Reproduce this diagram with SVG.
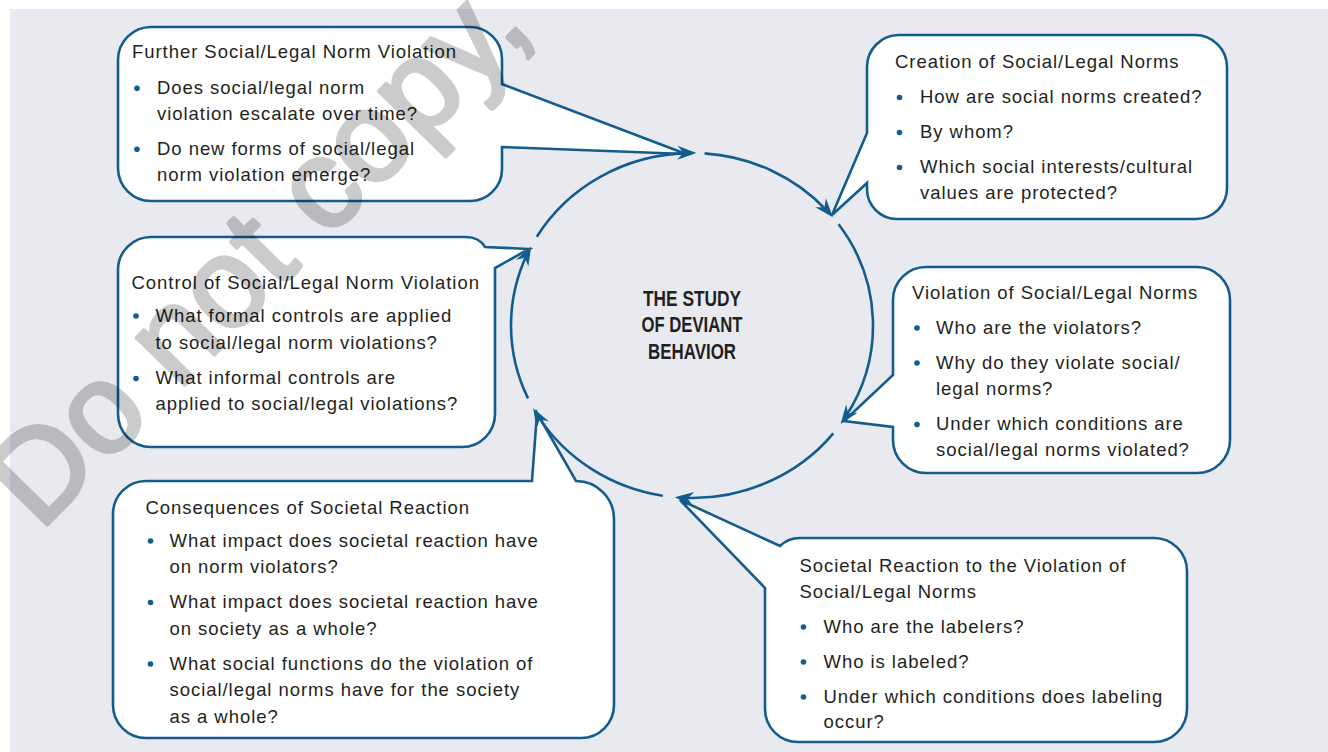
<svg xmlns="http://www.w3.org/2000/svg" width="1328" height="752" viewBox="0 0 1328 752">
<defs>
<style>
.box{fill:#fff;stroke:#135c8e;stroke-width:2.6;stroke-linejoin:miter}
.arc{fill:none;stroke:#135c8e;stroke-width:2.6}
.t{font-family:"Liberation Sans",Arial,sans-serif;font-size:18.5px;letter-spacing:0.95px;fill:#231f20}
.title{font-family:"Liberation Sans",Arial,sans-serif;font-size:21.5px;font-weight:bold;fill:#231f20}
.dot{fill:#135c8e}
.wm{font-family:"Liberation Sans",Arial,sans-serif;font-size:127px;fill:#000;stroke:#000;stroke-width:4;stroke-linejoin:round}
</style>
<path id="ah" d="M0,0 L-19,-7 L-13,0 L-19,7 Z" fill="#135c8e"/>
</defs>
<rect x="0" y="0" width="1328" height="752" fill="#fff"/>
<rect x="10" y="9" width="1318" height="743" fill="#e9eaf0"/>

<g id="node-further">
<path class="box" d="M151,27 H470 A32,32 0 0 1 502,59 V84 L686,154 L502,147 V169 A32,32 0 0 1 470,201 H151 A33,33 0 0 1 118,168 V60 A33,33 0 0 1 151,27 Z"/>
<text class="t" x="132" y="58">Further Social/Legal Norm Violation</text>
<circle class="dot" cx="137" cy="88.3" r="2.8"/>
<text class="t" x="157" y="94">Does social/legal norm</text>
<text class="t" x="157" y="120">violation escalate over time?</text>
<circle class="dot" cx="137" cy="149.3" r="2.8"/>
<text class="t" x="157" y="155">Do new forms of social/legal</text>
<text class="t" x="157" y="181">norm violation emerge?</text>
</g>

<g id="node-creation">
<path class="box" d="M899,35 H1195 A32,32 0 0 1 1227,67 V188 A31,31 0 0 1 1196,219 H897 A30,30 0 0 1 867,189 V183 L832,215 L867,133 V68 A32,32 0 0 1 899,35 Z"/>
<text class="t" x="895" y="68">Creation of Social/Legal Norms</text>
<circle class="dot" cx="899.5" cy="97.5" r="2.8"/>
<text class="t" x="920" y="103">How are social norms created?</text>
<circle class="dot" cx="899.5" cy="132.5" r="2.8"/>
<text class="t" x="920" y="138">By whom?</text>
<circle class="dot" cx="899.5" cy="167.5" r="2.8"/>
<text class="t" x="920" y="173">Which social interests/cultural</text>
<text class="t" x="920" y="199">values are protected?</text>
</g>

<g id="node-violation">
<path class="box" d="M926,267 H1197 A33,33 0 0 1 1230,300 V440 A33,33 0 0 1 1197,473 H926 A33,33 0 0 1 893,440 V427 L844,421 L893,375 V300 A33,33 0 0 1 926,267 Z"/>
<text class="t" x="912" y="299">Violation of Social/Legal Norms</text>
<circle class="dot" cx="917" cy="328" r="2.8"/>
<text class="t" x="936" y="333.5">Who are the violators?</text>
<circle class="dot" cx="917" cy="363" r="2.8"/>
<text class="t" x="936" y="368.5">Why do they violate social/</text>
<text class="t" x="936" y="394.5">legal norms?</text>
<circle class="dot" cx="917" cy="424.5" r="2.8"/>
<text class="t" x="936" y="430">Under which conditions are</text>
<text class="t" x="936" y="456">social/legal norms violated?</text>
</g>

<g id="node-reaction">
<path class="box" d="M800,538 H1154 A33,33 0 0 1 1187,571 V709 A33,33 0 0 1 1154,742 H798 A33,33 0 0 1 765,709 V588 L680,500 L780,546 Q788,538 800,538 Z"/>
<text class="t" x="799.5" y="571.5">Societal Reaction to the Violation of</text>
<text class="t" x="799.5" y="597.5">Social/Legal Norms</text>
<circle class="dot" cx="803.5" cy="627" r="2.8"/>
<text class="t" x="823.5" y="632.5">Who are the labelers?</text>
<circle class="dot" cx="803.5" cy="662" r="2.8"/>
<text class="t" x="823.5" y="667.5">Who is labeled?</text>
<circle class="dot" cx="803.5" cy="697" r="2.8"/>
<text class="t" x="823.5" y="702.5">Under which conditions does labeling</text>
<text class="t" x="823.5" y="728">occur?</text>
</g>

<g id="node-consequences">
<path class="box" d="M146,481 H532 L537,413 L576,481 A38,38 0 0 1 614,519 V705 A33,33 0 0 1 581,738 H146 A33,33 0 0 1 113,705 V514 A33,33 0 0 1 146,481 Z"/>
<text class="t" x="145.5" y="513.5">Consequences of Societal Reaction</text>
<circle class="dot" cx="150.5" cy="541" r="2.8"/>
<text class="t" x="169.5" y="546.5">What impact does societal reaction have</text>
<text class="t" x="169.5" y="573">on norm violators?</text>
<circle class="dot" cx="150.5" cy="602.5" r="2.8"/>
<text class="t" x="169.5" y="608">What impact does societal reaction have</text>
<text class="t" x="169.5" y="635">on society as a whole?</text>
<circle class="dot" cx="150.5" cy="664" r="2.8"/>
<text class="t" x="169.5" y="669.5">What social functions do the violation of</text>
<text class="t" x="169.5" y="696">social/legal norms have for the society</text>
<text class="t" x="169.5" y="722.5">as a whole?</text>
</g>

<g id="node-control">
<path class="box" d="M151,237 H466 Q479,237 485,247 L529,249 L495,268 V414 A33,33 0 0 1 462,447 H151 A33,33 0 0 1 118,414 V270 A33,33 0 0 1 151,237 Z"/>
<text class="t" x="131.5" y="288.5">Control of Social/Legal Norm Violation</text>
<circle class="dot" cx="136" cy="316" r="2.8"/>
<text class="t" x="155.5" y="321.5">What formal controls are applied</text>
<text class="t" x="155.5" y="348.5">to social/legal norm violations?</text>
<circle class="dot" cx="136" cy="378.5" r="2.8"/>
<text class="t" x="155.5" y="384">What informal controls are</text>
<text class="t" x="155.5" y="410">applied to social/legal violations?</text>
</g>

<g id="node-center">
<text class="title" x="692" y="305.5" text-anchor="middle" textLength="98" lengthAdjust="spacingAndGlyphs">THE STUDY</text>
<text class="title" x="692" y="332.3" text-anchor="middle" textLength="101" lengthAdjust="spacingAndGlyphs">OF DEVIANT</text>
<text class="title" x="692" y="359" text-anchor="middle" textLength="88" lengthAdjust="spacingAndGlyphs">BEHAVIOR</text>
</g>

<g id="connectors">
<path class="arc" d="M704.6,153.4 A181,172.5 0 0 1 826.5,210.1"/>
<path class="arc" d="M838.6,224.3 A181,172.5 0 0 1 845.8,416.4"/>
<path class="arc" d="M833.3,433.3 A181,172.5 0 0 1 684.1,497.8"/>
<path class="arc" d="M662.8,495.7 A181,172.5 0 0 1 538.0,416.1"/>
<path class="arc" d="M528.0,398.4 A181,172.5 0 0 1 527.0,254.5"/>
<path class="arc" d="M536.8,236.7 A181,172.5 0 0 1 686.9,153.1"/>
<use href="#ah" transform="translate(696.4,153.1) rotate(1.3)"/>
<use href="#ah" transform="translate(832.9,217.2) rotate(49.7)"/>
<use href="#ah" transform="translate(840.6,423.9) rotate(126.1)"/>
<use href="#ah" transform="translate(674.7,497.2) rotate(185.2)"/>
<use href="#ah" transform="translate(533.2,408.3) rotate(240.1)"/>
<use href="#ah" transform="translate(531.2,246.4) rotate(-61.6)"/>
</g>

<g id="watermark" opacity="0.2">
<text class="wm" transform="translate(40,532) rotate(-45.5)">Do not copy,</text>
</g>
</svg>
